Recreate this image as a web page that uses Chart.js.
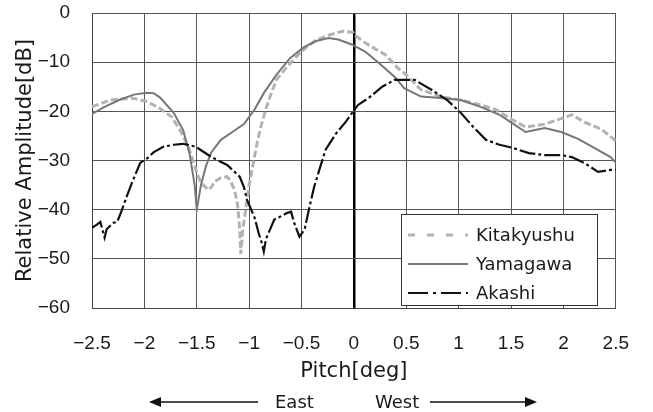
<!DOCTYPE html>
<html>
<head>
<meta charset="utf-8">
<script src="https://cdn.jsdelivr.net/npm/chart.js@4"></script>
<style>
  body { margin: 0; background: #fff; }
  #wrap { width: 653px; height: 412px; }
</style>
</head>
<body>
<div id="wrap"><canvas id="chart" width="653" height="412"></canvas></div>
<script>
// valores (pitch em graus, amplitude em dB)
const kitaPitch = [-2.5, -2.33, -2.12, -1.98, -1.86, -1.74, -1.65, -1.58, -1.53, -1.49, -1.46, -1.39, -1.36, -1.33, -1.27, -1.21, -1.18, -1.14, -1.11, -1.09, -1.08, -1.06, -1.02, -1.0, -0.96, -0.92, -0.88, -0.84, -0.8, -0.74, -0.64, -0.55, -0.45, -0.36, -0.24, -0.11, -0.01, 0.02, 0.11, 0.3, 0.42, 0.5, 0.64, 0.83, 1.02, 1.21, 1.36, 1.51, 1.64, 1.82, 1.95, 2.08, 2.2, 2.36, 2.5];
const kitaDb = [-19.1, -17.7, -17.3, -18, -19.3, -21.1, -24.2, -27.2, -30.5, -33, -34.5, -36, -35.4, -34.3, -33.5, -33.3, -34, -36, -39, -44, -49, -44, -38, -35, -30.5, -26, -22.5, -19.5, -17, -13.6, -11, -8.9, -6.9, -5.5, -4.5, -3.7, -3.9, -4.7, -6.1, -8.5, -11.2, -12.6, -15.6, -17, -17.7, -18.7, -19.7, -21.7, -23.2, -22.6, -21.7, -20.7, -22.2, -23.6, -26];

const yamaPitch = [-2.5, -2.38, -2.23, -2.1, -1.98, -1.91, -1.85, -1.72, -1.63, -1.57, -1.52, -1.5, -1.46, -1.41, -1.36, -1.27, -1.16, -1.05, -0.95, -0.86, -0.74, -0.61, -0.48, -0.36, -0.24, -0.15, -0.02, 0.11, 0.23, 0.39, 0.48, 0.64, 0.83, 1.02, 1.21, 1.39, 1.51, 1.64, 1.82, 1.98, 2.14, 2.29, 2.45, 2.5];
const yamaDb = [-20.5, -19.1, -17.6, -16.6, -16.2, -16.3, -17.2, -20.3, -23.8, -28.5, -35, -40, -35, -31, -28.3, -25.8, -24.2, -22.6, -19.7, -16.3, -12.6, -9.2, -7, -5.7, -5.1, -5.4, -6.4, -7.9, -10, -13, -15.3, -17, -17.3, -17.7, -19.1, -20.7, -22.4, -24.2, -23.4, -24.2, -25.6, -27.4, -29.3, -30.4];

const akaPitch = [-2.5, -2.45, -2.42, -2.38, -2.36, -2.3, -2.26, -2.22, -2.17, -2.12, -2.04, -1.97, -1.91, -1.82, -1.72, -1.63, -1.51, -1.36, -1.21, -1.09, -1.05, -1.02, -0.95, -0.91, -0.88, -0.86, -0.84, -0.8, -0.76, -0.71, -0.64, -0.6, -0.57, -0.52, -0.47, -0.43, -0.38, -0.33, -0.27, -0.17, -0.08, -0.01, 0.04, 0.14, 0.27, 0.39, 0.58, 0.74, 0.89, 1.02, 1.14, 1.26, 1.39, 1.51, 1.67, 1.82, 1.98, 2.08, 2.2, 2.33, 2.45, 2.5];
const akaDb = [-43.7, -43, -42.5, -45.7, -44, -42.7, -42.5, -40.4, -37.4, -34.6, -30.5, -29.5, -28.3, -27.2, -26.8, -26.6, -27.2, -29.3, -30.9, -33.3, -35.4, -38, -41.5, -44.7, -46.7, -48.5, -46, -44, -42, -41.5, -40.7, -40.4, -42.7, -45.5, -44, -40, -35.4, -31.9, -27.8, -24.5, -22.2, -20.1, -18.7, -17.3, -15, -13.6, -13.6, -15.6, -17.7, -20.3, -23.2, -25.8, -26.8, -27.4, -28.5, -28.9, -28.9, -29.3, -30.5, -32.3, -31.9, -31.9];

const seriesNames = ["Kitakyushu", "Yamagawa", "Akashi"];
const xTicks = { min: -2.5, max: 2.5, step: 0.5 };
const yTicks = { min: -60, max: 0, step: 10 };

const tickFont = { family: "'Liberation Sans', Arial, sans-serif", size: 19 };
const titleFont = { family: "'DejaVu Sans', sans-serif", size: 21 };
const textColor = "#1a1a1a";

// junta x e y em pontos
function pontos(xs, ys) {
  return xs.map((x, i) => ({ x: x, y: ys[i] }));
}

function comMenos(v) {
  return String(Math.round(v * 10) / 10).replace("-", "\u2212");
}

const estilos = [
  { color: "#b3b3b3", width: 3, dash: [7, 3], legendDash: [7, 12] },
  { color: "#777777", width: 2, dash: [], legendDash: [] },
  { color: "#111111", width: 2.2, dash: [16, 3, 3, 3], legendDash: [20, 5, 3, 5] }
];

// legenda dentro do grafico e setas East / West
const extras = {
  id: "extras",
  afterDraw(chart) {
    const ctx = chart.ctx;
    ctx.save();
    // caixa da legenda
    ctx.fillStyle = "#fff";
    ctx.fillRect(401, 214, 196, 91);
    ctx.strokeStyle = "#333";
    ctx.lineWidth = 1;
    ctx.strokeRect(401.5, 214.5, 196, 91);
    const linhas = [235, 264, 293];
    ctx.font = "18px 'DejaVu Sans', sans-serif";
    ctx.textBaseline = "middle";
    seriesNames.forEach((nome, i) => {
      const e = estilos[i];
      ctx.strokeStyle = e.color;
      ctx.lineWidth = e.width;
      ctx.setLineDash(e.legendDash);
      ctx.beginPath();
      ctx.moveTo(408, linhas[i]);
      ctx.lineTo(468, linhas[i]);
      ctx.stroke();
      ctx.setLineDash([]);
      ctx.fillStyle = textColor;
      ctx.fillText(nome, 476, linhas[i] + 1);
    });

    // setas
    const ya = 402;
    ctx.strokeStyle = "#111";
    ctx.fillStyle = "#111";
    ctx.lineWidth = 1.3;
    ctx.beginPath();
    ctx.moveTo(258, ya);
    ctx.lineTo(158, ya);
    ctx.moveTo(430, ya);
    ctx.lineTo(528, ya);
    ctx.stroke();
    ctx.beginPath();
    ctx.moveTo(149, ya);
    ctx.lineTo(161, ya - 5);
    ctx.lineTo(161, ya + 5);
    ctx.closePath();
    ctx.fill();
    ctx.beginPath();
    ctx.moveTo(537, ya);
    ctx.lineTo(525, ya - 5);
    ctx.lineTo(525, ya + 5);
    ctx.closePath();
    ctx.fill();
    ctx.fillStyle = textColor;
    ctx.fillText("East", 275, ya + 1);
    ctx.fillText("West", 375, ya + 1);
    ctx.restore();
  }
};

const dados = [pontos(kitaPitch, kitaDb), pontos(yamaPitch, yamaDb), pontos(akaPitch, akaDb)];

new Chart(document.getElementById("chart").getContext("2d"), {
  type: "line",
  data: {
    datasets: seriesNames.map((nome, i) => ({
      label: nome,
      data: dados[i],
      borderColor: estilos[i].color,
      borderWidth: estilos[i].width,
      borderDash: estilos[i].dash,
      pointRadius: 0,
      tension: 0,
      fill: false,
      order: 2 - i
    }))
  },
  options: {
    responsive: false,
    animation: false,
    layout: { padding: { top: 13, right: 28, left: 0, bottom: 0 } },
    plugins: { legend: { display: false }, tooltip: { enabled: false } },
    scales: {
      x: {
        type: "linear",
        min: xTicks.min,
        max: xTicks.max,
        afterFit: s => { s.height = 104; },
        ticks: {
          stepSize: xTicks.step,
          padding: 24,
          color: textColor,
          font: tickFont,
          maxRotation: 0,
          callback: v => comMenos(v)
        },
        grid: {
          drawTicks: false,
          color: c => (c.tick && c.tick.value === 0 ? "#000" : "#555"),
          lineWidth: c => (c.tick && c.tick.value === 0 ? 2.5 : 1)
        },
        border: { color: "#444", width: 1 },
        title: {
          display: true,
          text: "Pitch[deg]",
          color: textColor,
          font: titleFont,
          padding: { top: 0, bottom: 28 }
        }
      },
      y: {
        min: yTicks.min,
        max: yTicks.max,
        afterFit: s => {
          s.width = 92;
          // o padding dos ticks nao deve empurrar a area do grafico
          s.paddingTop = 10;
          s.paddingBottom = 10;
        },
        ticks: {
          stepSize: yTicks.step,
          padding: 22,
          color: textColor,
          font: tickFont,
          callback: v => comMenos(v)
        },
        grid: { drawTicks: false, color: "#555", lineWidth: 1 },
        border: { color: "#444", width: 1 },
        title: {
          display: true,
          text: "Relative Amplitude[dB]",
          color: textColor,
          font: titleFont,
          padding: { top: 13, bottom: 0 }
        }
      }
    }
  },
  plugins: [extras]
});
</script>
</body>
</html>
